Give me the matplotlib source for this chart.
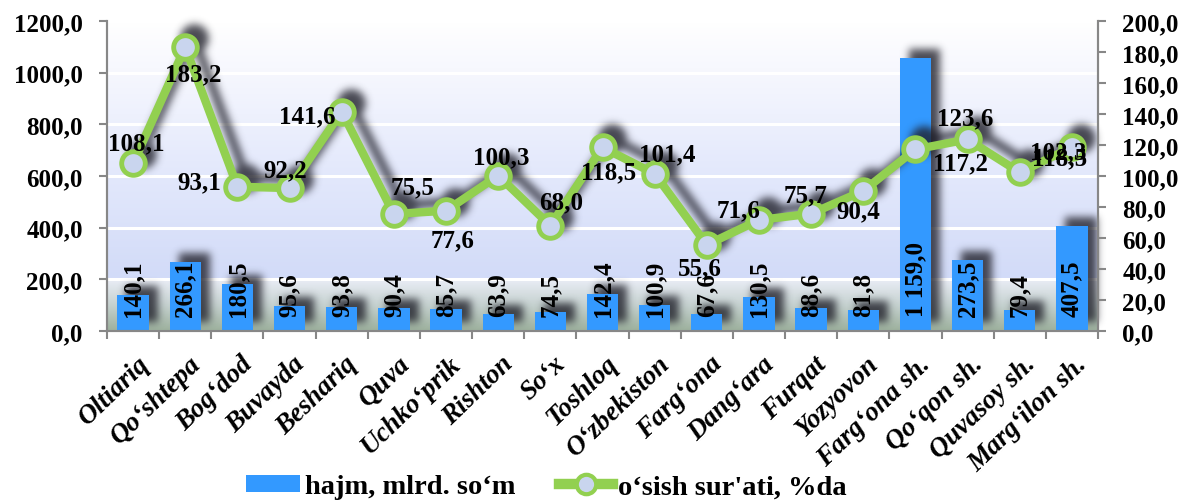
import numpy as np
import matplotlib
matplotlib.use("Agg")
import matplotlib.pyplot as plt
from matplotlib.patches import Rectangle
from matplotlib.lines import Line2D

# ---------------- data ----------------
categories = ["Oltiariq", "Qo\u2018shtepa", "Bog\u2018dod", "Buvayda", "Beshariq", "Quva",
              "Uchko\u2018prik", "Rishton", "So\u2018x", "Toshloq", "O\u2018zbekiston",
              "Farg\u2018ona", "Dang\u2018ara", "Furqat", "Yozyovon", "Farg\u2018ona sh.",
              "Qo\u2018qon sh.", "Quvasoy sh.", "Marg\u2018ilon sh."]
hajm = [140.1, 266.1, 180.5, 95.6, 93.8, 90.4, 85.7, 63.9, 74.5, 142.4, 100.9,
        67.6, 130.5, 88.6, 81.8, 1159.0, 273.5, 79.4, 407.5]
# bar heights as drawn in the picture (Farg'ona sh. bar is drawn lower than its label)
hajm_bar = [140.1, 266.1, 180.5, 95.6, 93.8, 90.4, 85.7, 63.9, 74.5, 142.4, 100.9,
            67.6, 130.5, 88.6, 81.8, 1055.0, 273.5, 79.4, 407.5]
osish = [108.1, 183.2, 93.1, 92.2, 141.6, 75.5, 77.6, 100.3, 68.0, 118.5, 101.4,
         55.6, 71.6, 75.7, 90.4, 117.2, 123.6, 102.3, 118.5]
left_ticks = [0, 200, 400, 600, 800, 1000, 1200]
right_ticks = [0, 20, 40, 60, 80, 100, 120, 140, 160, 180, 200]
legend_labels = ["hajm, mlrd. so\u2018m", "o\u2018sish sur'ati, %da"]

# ---------------- style ----------------
SERIF = "Liberation Serif"
BAR_C = "#3399FF"
LINE_C = "#92D050"
MFACE = "#C9D5EE"
# label offsets for line labels (pixels, x right / y down)
line_lab_off = [(3, -21), (8, 27), (-38, -5), (-4, -18), (-34, 4), (19, -27), (7, 29),
                (3, -19), (11, -24), (6, 24), (13, -20), (-7, 23), (-20, -10), (-6, -19),
                (-5, 20), (45, 13), (-2, -22), (38, -21), (-12, 10)]


def fmt(v, thousands=False):
    s = f"{v:.1f}".replace(".", ",")
    if thousands and v >= 1000:
        ip, dp = s.split(",")
        ip = f"{int(ip):,}".replace(",", " ")
        s = ip + "," + dp
    return s


def gblur(a, sigma):
    r = int(3 * sigma)
    xx = np.arange(-r, r + 1)
    k = np.exp(-xx ** 2 / (2 * sigma ** 2))
    k /= k.sum()
    out = np.zeros_like(a)
    for i, w in enumerate(k):
        out += w * np.roll(a, i - r, axis=1)
    out2 = np.zeros_like(a)
    for i, w in enumerate(k):
        out2 += w * np.roll(out, i - r, axis=0)
    return out2


class Shadow:
    def __init__(self, sigma=4.0, ox=8, oy=8, alpha=0.75, color=(0.12, 0.12, 0.16)):
        self.sigma, self.ox, self.oy, self.alpha, self.color = sigma, ox, oy, alpha, color

    def __call__(self, im, dpi):
        pad = int(3 * self.sigma + max(abs(self.ox), abs(self.oy)) + 2)
        p = np.pad(im, [(pad, pad), (pad, pad), (0, 0)])
        a = gblur(p[:, :, 3].astype(float), self.sigma)
        a = np.roll(a, self.ox, axis=1)
        a = np.roll(a, -self.oy, axis=0)
        out = np.zeros_like(p, dtype=float)
        out[:, :, 0] = self.color[0]
        out[:, :, 1] = self.color[1]
        out[:, :, 2] = self.color[2]
        out[:, :, 3] = np.clip(a * self.alpha, 0, 1)
        return out, -pad, -pad


fig = plt.figure(figsize=(11.98, 5.02), dpi=100)
fig.patch.set_facecolor("white")
ax = fig.add_axes([107 / 1198, 1 - 332 / 502, 991 / 1198, 310 / 502])
ax2 = ax.twinx()

n = len(categories)
x = np.arange(n)

# background gradient
stops = [0.0, 0.15, 0.45, 0.83, 0.838, 0.92, 1.0]
cols = np.array([[255, 255, 255], [247, 248, 254], [229, 234, 252], [210, 219, 248],
                 [232, 236, 244], [196, 208, 206], [156, 176, 156]]) / 255.0
fr = np.linspace(0, 1, 400)
grad = np.stack([np.interp(fr, stops, cols[:, c]) for c in range(3)], axis=1)
ax.imshow(grad[:, None, :], extent=[0, 1, 0, 1], transform=ax.transAxes,
          aspect="auto", zorder=0, interpolation="bilinear")

ax.set_xlim(-0.5, n - 0.5)
ax.set_ylim(0, 1200)
ax2.set_ylim(0, 200)

ax.set_axisbelow(True)
ax.yaxis.grid(True, color="white", linewidth=2.2, zorder=0.5)
ax.set_yticks(left_ticks)
ax.set_yticklabels([fmt(v) for v in left_ticks])
ax2.set_yticks(right_ticks)
ax2.set_yticklabels([fmt(v) for v in right_ticks])

# bars with shadow
sh = ax.bar(x, hajm_bar, width=0.6, color="black", zorder=1.5)
for p in sh.patches:
    p.set_agg_filter(Shadow(sigma=4.0, ox=9, oy=9, alpha=0.8))
ax.bar(x, hajm_bar, width=0.6, color=BAR_C, zorder=2)

# line with shadow
lsh, = ax2.plot(x, osish, color="black", linewidth=6, marker="o", markersize=17,
                markerfacecolor="black", markeredgecolor="black", markeredgewidth=3.5,
                zorder=1)
lsh.set_agg_filter(Shadow(sigma=4.0, ox=9, oy=9, alpha=0.8))
ax2.plot(x, osish, color=LINE_C, linewidth=6, marker="o", markersize=17,
         markerfacecolor=MFACE, markeredgecolor=LINE_C, markeredgewidth=3.5, zorder=2,
         solid_joinstyle="round")

# bar labels
for i in range(n):
    ax2.annotate(fmt(hajm[i], thousands=True), xy=(x[i], 0), xycoords=ax.transData,
                 xytext=(0, 15), textcoords="offset pixels", rotation=90,
                 ha="center", va="bottom", fontsize=18, fontweight="bold",
                 family=SERIF, color="black", zorder=5)

# line labels
for i in range(n):
    dx, dy = line_lab_off[i]
    ax2.annotate(fmt(osish[i]), xy=(x[i], osish[i]), xytext=(dx, -dy),
                 textcoords="offset pixels", ha="center", va="center", fontsize=18,
                 fontweight="bold", family=SERIF, color="black", zorder=6)

# axes styling
for a in (ax, ax2):
    a.spines["top"].set_visible(False)
    for s in ("left", "right", "bottom"):
        a.spines[s].set_color("#878787")
        a.spines[s].set_linewidth(1.5)
ax.tick_params(axis="y", direction="out", length=6, width=1.5, color="#878787",
               labelsize=18, pad=11.5)
ax2.tick_params(axis="y", direction="out", length=6, width=1.5, color="#878787",
                labelsize=18, pad=11.5)
for lab in ax.get_yticklabels() + ax2.get_yticklabels():
    lab.set_fontweight("bold")
    lab.set_family(SERIF)

ax.set_xticks(np.arange(-0.5, n, 1.0))
ax.set_xticklabels([])
ax.tick_params(axis="x", direction="out", length=6, width=1.5, color="#878787")

for i in range(n):
    ax.annotate(categories[i], xy=(x[i], 0), xycoords="data", xytext=(3, -20),
                textcoords="offset pixels", rotation=44, rotation_mode="anchor",
                ha="right", va="top", fontsize=19.5, fontweight="bold", style="italic",
                family=SERIF, color="black", annotation_clip=False)

# legend
handles = [Rectangle((0, 0), 1, 1, facecolor=BAR_C, edgecolor="none"),
           Line2D([0], [0], color=LINE_C, linewidth=7.5, marker="o", markersize=14,
                  markerfacecolor=MFACE, markeredgecolor=LINE_C, markeredgewidth=3)]
leg = fig.legend(handles, legend_labels, loc="center", bbox_to_anchor=(0.456, 14 / 502),
                 ncol=2, frameon=False, handlelength=1.9, handleheight=0.55,
                 columnspacing=1.5, handletextpad=0.2, borderpad=0.0,
                 prop={"family": SERIF, "weight": "bold", "size": 20.5})

fig.savefig("out.png", dpi=100)
